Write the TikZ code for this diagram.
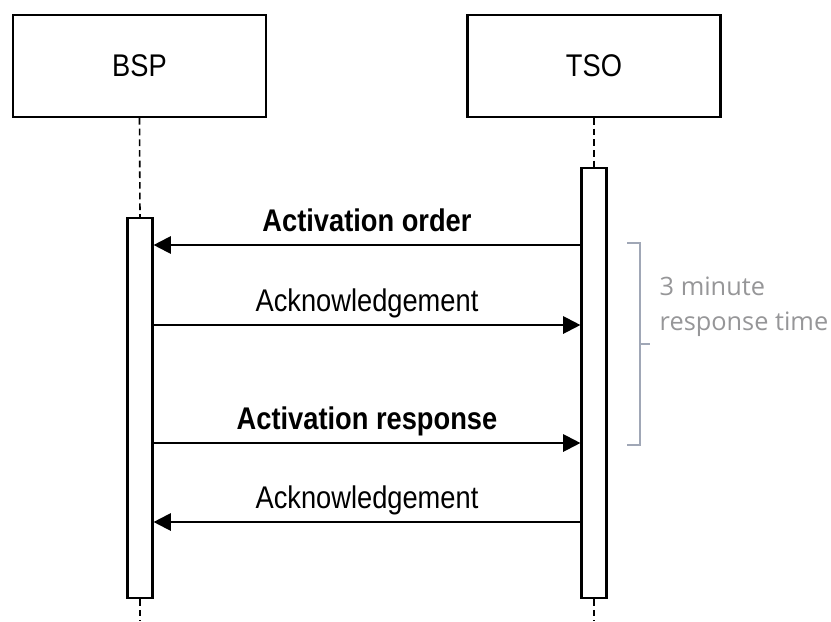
\documentclass[tikz,border=0pt]{standalone}
\usepackage{fontspec}
\setmainfont{Liberation Sans}[FakeStretch=0.87]
\newfontfamily\notefont{Open Sans}
\usetikzlibrary{arrows.meta}

\definecolor{notegray}{RGB}{150,150,152}
\definecolor{bracketgray}{RGB}{160,167,182}

\tikzset{
    actor/.style={draw, line width=1.6pt, minimum width=189.75pt,
        minimum height=76.5pt, font=\fontsize{23.5}{28}\selectfont},
    bar/.style={draw, line width=1.6pt, fill=white, minimum width=18.75pt,
        anchor=north},
    lifeline/.style={line width=1.2pt, dash pattern=on 5pt off 3pt},
    msg/.style={line width=1.6pt, -{Triangle[length=13pt,width=13pt]}},
    msglabel/.style={midway, anchor=base, yshift=10.5pt,
        font=\fontsize{23.5}{28}\selectfont},
}

\begin{document}
\begin{tikzpicture}[x=0.75pt, y=-0.75pt]
    \useasboundingbox (0,0) rectangle (831,621);
    % actors
    \node [actor] (bsp) at (139.5,66) {BSP};
    \node [actor] (tso) at (594,66) {TSO};
    % activation bars
    \node [bar, minimum height=285pt] (bspbar) at (140,217) {};
    \node [bar, minimum height=322.5pt] (tsobar) at (594,167) {};
    \coordinate (bspend) at (140,621);
    \coordinate (tsoend) at (594,621);
    % lifelines
    \draw [lifeline] (bsp.south) -- (bspbar.north);
    \draw [lifeline] (tso.south) -- (tsobar.north);
    \draw [lifeline] (bspbar.south) -- (bspend);
    \draw [lifeline] (tsobar.south) -- (tsoend);
    % messages
    \draw [msg] (tsobar.west |- 0,245) -- (bspbar.east |- 0,245)
        node [msglabel] {\textbf{Activation order}};
    \draw [msg] (bspbar.east |- 0,325) -- (tsobar.west |- 0,325)
        node [msglabel] {Acknowledgement};
    \draw [msg] (bspbar.east |- 0,443) -- (tsobar.west |- 0,443)
        node [msglabel] {\textbf{Activation response}};
    \draw [msg] (tsobar.west |- 0,522) -- (bspbar.east |- 0,522)
        node [msglabel] {Acknowledgement};
    % response time bracket
    \draw [bracketgray, line width=2pt] (627,243) -- (640,243) -- (640,445)
        -- (627,445);
    \draw [bracketgray, line width=2pt] (640,344) -- (650,344);
    \node [anchor=base west, align=left, text=notegray,
        font=\notefont\fontsize{19}{26}\selectfont] (note) at (655,330)
        {3 minute\\response time};
\end{tikzpicture}
\end{document}
